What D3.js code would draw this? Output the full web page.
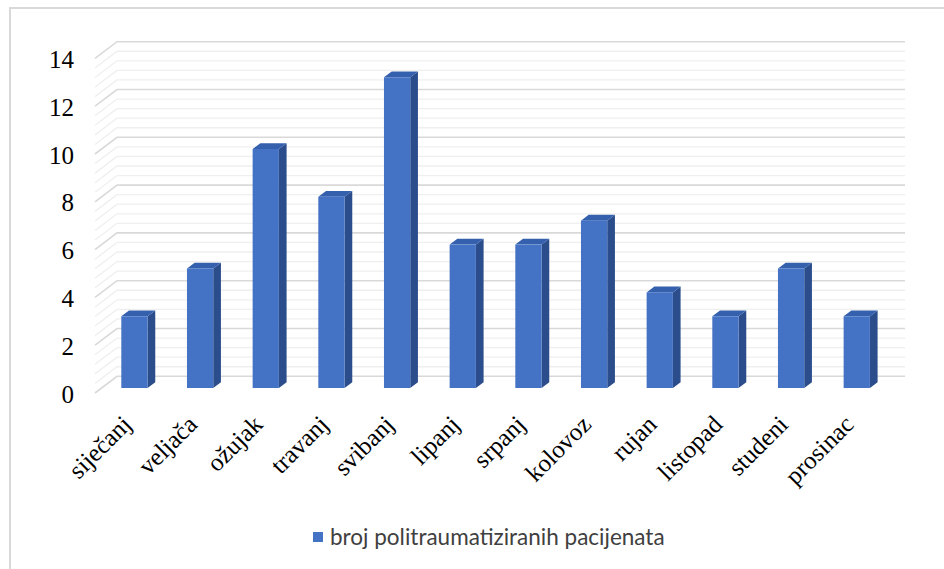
<!DOCTYPE html>
<html>
<head>
<meta charset="utf-8">
<script src="https://cdn.jsdelivr.net/npm/d3@7"></script>
<style>
  body { margin: 0; background: #fff; }
  svg { display: block; }
</style>
</head>
<body>
<div id="chart"></div>
<script>
// Data
let months = ["siječanj", "veljača", "ožujak", "travanj", "svibanj", "lipanj",
  "srpanj", "kolovoz", "rujan", "listopad", "studeni", "prosinac"];
let patients = [3, 5, 10, 8, 13, 6, 6, 7, 4, 3, 5, 3];
let yTicks = [0, 2, 4, 6, 8, 10, 12, 14];
let seriesName = "broj politraumatiziranih pacijenata";

let svgWidth = 944;
let svgHeight = 569;

// front plane of the 3D box
let front = { left: 95, right: 883, bottom: 393, top: 58.4 };
// depth vector from front plane to back wall
let depth = { dx: 22, dy: -16.7 };

let svg = d3.select("#chart")
  .append("svg")
  .attr("width", svgWidth)
  .attr("height", svgHeight);

// chart frame (only top and left edges are visible)
svg.append("path")
  .attr("d", "M10,569 L10,8 L944,8")
  .attr("fill", "none")
  .attr("stroke", "#d9d9d9")
  .attr("stroke-width", 2);

let x = d3.scaleBand()
  .domain(months)
  .range([front.left, front.right]);

let y = d3.scaleLinear()
  .domain([0, 14])
  .range([front.bottom, front.top]);

// depth scale: 0 = front plane, 1 = back wall
let zx = d3.scaleLinear().domain([0, 1]).range([0, depth.dx]);
let zy = d3.scaleLinear().domain([0, 1]).range([0, depth.dy]);

// gridlines: major every 2, minor every 0.4
let gridValues = d3.range(0, 14.001, 0.4).map(v => Math.round(v * 10) / 10);
let grid = svg.append("g");
grid.selectAll("path")
  .data(gridValues)
  .enter()
  .append("path")
  .attr("d", v => {
    let yf = y(v);
    return `M${front.left},${yf} L${front.left + zx(1)},${yf + zy(1)} L${front.right + zx(1)},${yf + zy(1)}`;
  })
  .attr("fill", "none")
  .attr("stroke", v => (Math.abs(v % 2) < 0.01 ? "#d9d9d9" : "#efefef"))
  .attr("stroke-width", v => (Math.abs(v % 2) < 0.01 ? 1.6 : 1.3));

// bars
let barFrac = 0.4;
let z0 = 0.3, z1 = 0.65;
let barW = x.bandwidth() * barFrac;

let bars = svg.append("g").selectAll("g")
  .data(months.map((m, i) => ({ month: m, value: patients[i] })))
  .enter()
  .append("g");

function barX(d) { return x(d.month) + (x.bandwidth() - barW) / 2 + zx(z0); }
function barBase() { return y(0) + zy(z0); }
function barTop(d) { return y(d.value) + zy(z0); }
let ddx = zx(z1) - zx(z0), ddy = zy(z1) - zy(z0);

// side face
bars.append("path")
  .attr("d", d => {
    let x1 = barX(d) + barW, yt = barTop(d), yb = barBase();
    return `M${x1},${yt} L${x1 + ddx},${yt + ddy} L${x1 + ddx},${yb + ddy} L${x1},${yb} Z`;
  })
  .attr("fill", "#2b4d8c");

// top face
bars.append("path")
  .attr("d", d => {
    let x0 = barX(d), yt = barTop(d);
    return `M${x0},${yt} L${x0 + ddx},${yt + ddy} L${x0 + barW + ddx},${yt + ddy} L${x0 + barW},${yt} Z`;
  })
  .attr("fill", "#3460ad");

// front face
bars.append("rect")
  .attr("x", d => barX(d))
  .attr("y", d => barTop(d))
  .attr("width", barW)
  .attr("height", d => barBase() - barTop(d))
  .attr("fill", "#4472c4");

// y axis labels
let yAxis = svg.append("g")
  .attr("transform", "translate(74,1)")
  .call(d3.axisLeft(y).tickValues(yTicks).tickSize(0).tickPadding(0));
yAxis.select(".domain").remove();
yAxis.selectAll("text")
  .style("font-family", "'Liberation Serif', 'Times New Roman', serif")
  .style("font-size", "25px")
  .style("fill", "#000");

// x labels, rotated
svg.append("g").selectAll("text")
  .data(months)
  .enter()
  .append("text")
  .attr("transform", m => `translate(${x(m) + x.bandwidth() / 2 + 5},${426}) rotate(-45)`)
  .attr("text-anchor", "end")
  .style("font-family", "'Liberation Serif', 'Times New Roman', serif")
  .style("font-size", "25px")
  .style("fill", "#000")
  .text(m => m);

// legend
let legend = svg.append("g").attr("transform", "translate(313,532)");
legend.append("rect")
  .attr("width", 10)
  .attr("height", 10)
  .attr("fill", "#4472c4");
legend.append("text")
  .attr("x", 17)
  .attr("y", 12.5)
  .style("font-family", "Lato, sans-serif")
  .style("font-size", "22.5px")
  .style("fill", "#404040")
  .text(seriesName);
</script>
</body>
</html>
